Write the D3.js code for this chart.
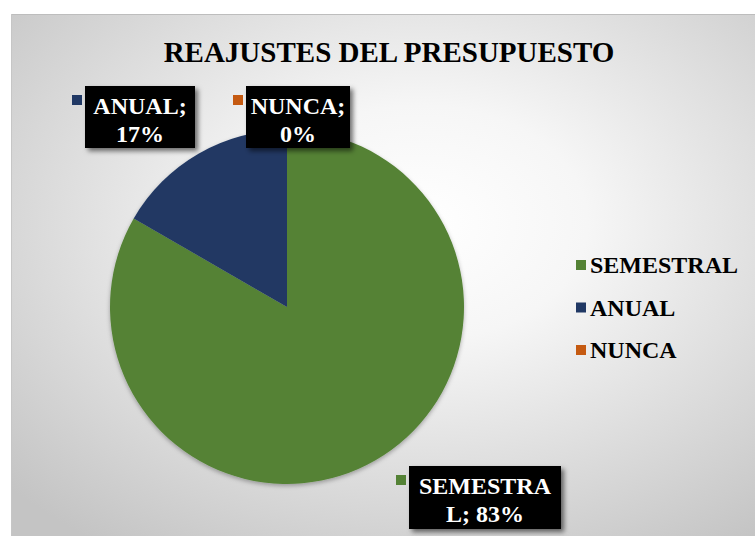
<!DOCTYPE html>
<html><head><meta charset="utf-8">
<script src="https://cdn.jsdelivr.net/npm/d3@7"></script>
<style>body{margin:0;background:#fff}svg{display:block}</style>
</head><body>
<script>
const categories = ["SEMESTRAL", "ANUAL", "NUNCA"];
const counts = [5, 1, 0];
const colors = ["#548235", "#203864", "#c55a11"];
const title = "REAJUSTES DEL PRESUPUESTO";

const W = 755, H = 536;
const svg = d3.select("body").append("svg").attr("width", W).attr("height", H);
const defs = svg.append("defs");
const rg = defs.append("radialGradient").attr("id", "bg").attr("cx", "55%").attr("cy", "40%").attr("r", "75%");
rg.append("stop").attr("offset", "0%").attr("stop-color", "#ffffff");
rg.append("stop").attr("offset", "30%").attr("stop-color", "#f6f6f6");
rg.append("stop").attr("offset", "100%").attr("stop-color", "#c4c4c4");
const f = defs.append("filter").attr("id", "sh").attr("x", "-20%").attr("y", "-20%").attr("width", "150%").attr("height", "150%");
f.append("feDropShadow").attr("dx", 3).attr("dy", 3).attr("stdDeviation", 2.5).attr("flood-color", "#000").attr("flood-opacity", 0.55);
const f2 = defs.append("filter").attr("id", "psh").attr("x", "-10%").attr("y", "-10%").attr("width", "120%").attr("height", "120%");
f2.append("feDropShadow").attr("dx", 0).attr("dy", 2).attr("stdDeviation", 2).attr("flood-color", "#000").attr("flood-opacity", 0.3);

svg.append("rect").attr("x", 11).attr("y", 14).attr("width", W - 11).attr("height", H - 14).attr("fill", "url(#bg)");
svg.append("line").attr("x1", 11).attr("x2", W).attr("y1", 14.5).attr("y2", 14.5).attr("stroke", "#bdbdbd");
svg.append("line").attr("x1", 11.5).attr("x2", 11.5).attr("y1", 14).attr("y2", H).attr("stroke", "#c6c6c6");

const serif = "'Liberation Serif','Times New Roman',serif";
svg.append("text").attr("x", 389).attr("y", 62).attr("text-anchor", "middle")
  .attr("font-family", serif).attr("font-weight", "bold").attr("font-size", 29).attr("fill", "#000").text(title);

const total = d3.sum(counts);
const data = categories.map((c, i) => ({cat: c, v: counts[i], color: colors[i], pct: Math.round(counts[i] / total * 100)}));
const pie = d3.pie().value(d => d.v).sort(null);
const arc = d3.arc().innerRadius(0).outerRadius(177);
const g = svg.append("g").attr("transform", "translate(287,307)").attr("filter", "url(#psh)");
g.selectAll("path").data(pie(data)).join("path").attr("d", arc).attr("fill", d => d.data.color);

// data labels
const labelPos = [
  {x: 409, y: 466, w: 152, h: 63, lines: d => ["SEMESTRA", "L; " + d.pct + "%"]},
  {x: 85, y: 86, w: 110, h: 62, lines: d => [d.cat + ";", d.pct + "%"]},
  {x: 246, y: 86, w: 104, h: 62, lines: d => [d.cat + ";", d.pct + "%"]}
];
data.forEach((d, i) => {
  const p = labelPos[i];
  const lg = svg.append("g");
  lg.append("rect").attr("x", p.x).attr("y", p.y).attr("width", p.w).attr("height", p.h).attr("fill", "#000").attr("filter", "url(#sh)");
  lg.append("rect").attr("x", p.x - 13).attr("y", p.y + 9).attr("width", 10).attr("height", 10).attr("fill", d.color);
  const ls = p.lines(d);
  ls.forEach((t, j) => {
    lg.append("text").attr("x", p.x + p.w / 2).attr("y", p.y + 28 + j * 28).attr("text-anchor", "middle")
      .attr("font-family", serif).attr("font-weight", "bold").attr("font-size", 24).attr("fill", "#fff").text(t);
  });
});

// legend
const leg = svg.append("g").attr("transform", "translate(576,260)");
data.forEach((d, i) => {
  const r = leg.append("g").attr("transform", `translate(0,${i * 42.5})`);
  r.append("rect").attr("width", 10).attr("height", 10).attr("fill", d.color);
  r.append("text").attr("x", 14).attr("y", 13).attr("font-family", serif).attr("font-weight", "bold")
    .attr("font-size", 24).attr("fill", "#000").text(d.cat);
});
</script>
</body></html>
